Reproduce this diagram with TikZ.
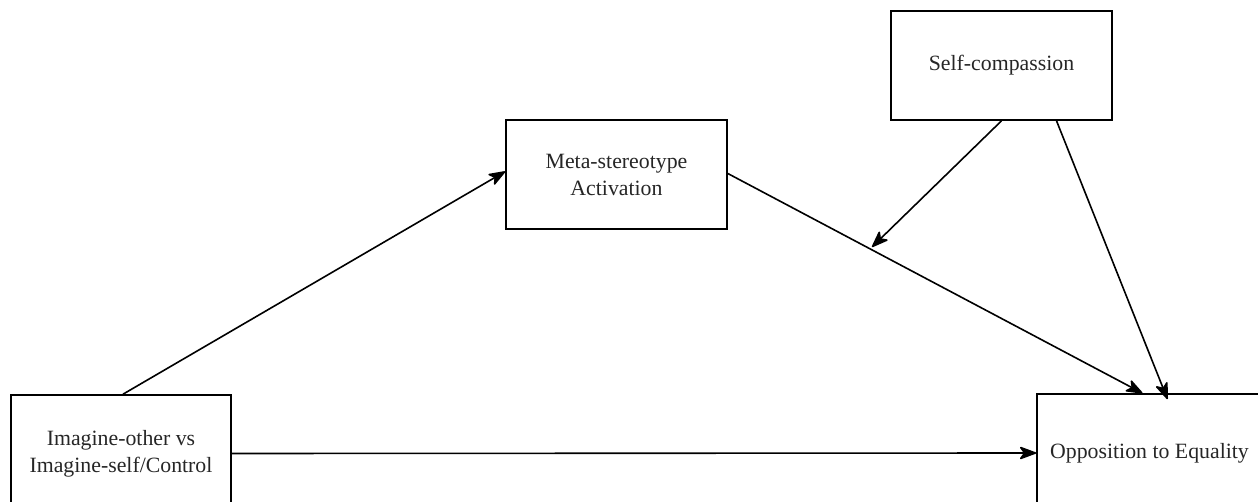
\documentclass[tikz,border=0pt]{standalone}
\usepackage{fontspec}
\setmainfont{Liberation Serif}
\usetikzlibrary{arrows.meta,calc}
\begin{document}
\begin{tikzpicture}[x=1pt,y=-1pt,
  box/.style={draw=black,line width=1.6pt,rectangle,inner sep=0pt,align=center,
    font=\fontsize{21.8}{27}\selectfont,text=black!85},
  arr/.style={draw=black,line width=1.6pt,-{Stealth[length=19pt,width=14pt,inset=5pt,round]}}]
\useasboundingbox (0,0) rectangle (1258,502);
\node[box,minimum width=220pt,minimum height=117pt] (a) at (121,453.5) {Imagine-other vs\\Imagine-self/Control};
\node[box,minimum width=221pt,minimum height=109pt] (m) at (616.5,174.5) {Meta-stereotype\\Activation};
\node[box,minimum width=221pt,minimum height=109pt] (s) at (1001.5,65.5) {Self-compassion};
\node[box,minimum width=225pt,minimum height=118pt] (o) at (1149.5,453) {Opposition to Equality};
\coordinate (mod) at (872,247);
\draw[arr] ([xshift=2pt]a.north) -- ([yshift=3pt]m.west);
\draw[arr] ([yshift=1pt]m.east) -- ([xshift=-7pt]o.north);
\draw[arr] (s.south) -- (mod);
\draw[arr] ([xshift=55pt]s.south) -- ([xshift=18pt,yshift=-6pt]o.north);
\draw[arr] (a.east) -- (o.west);
\end{tikzpicture}
\end{document}
